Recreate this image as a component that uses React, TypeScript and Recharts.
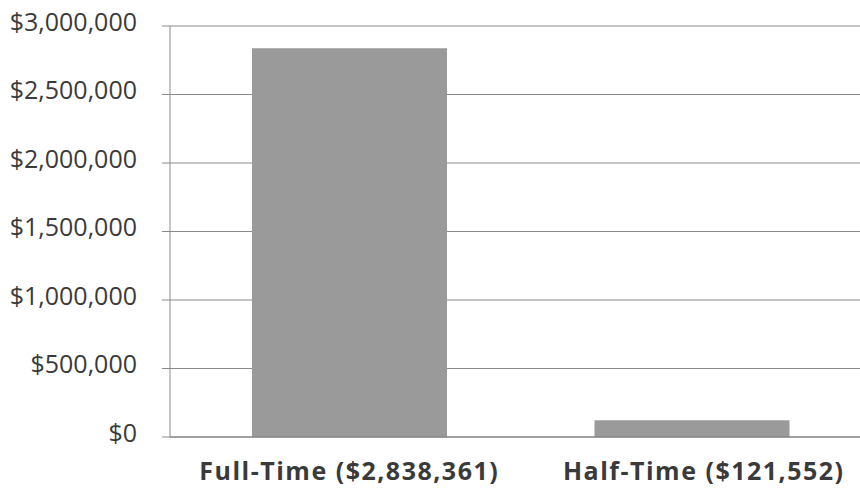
import { BarChart, Bar, XAxis, YAxis, CartesianGrid } from "recharts";

const categories = ["Full-Time ($2,838,361)", "Half-Time ($121,552)"];
const amounts = [2838361, 121552];
const yTicks = [0, 500000, 1000000, 1500000, 2000000, 2500000, 3000000];

const data = categories.map((name, i) => ({ name, amount: amounts[i] }));

const money = (v: number) => "$" + v.toLocaleString("en-US");

// the second label sits a bit right of its bar in the original
const labelShift = [0, 12];

function CategoryTick(props: any) {
  const { x, y, payload, index } = props;
  return (
    <text
      x={x + (labelShift[index] || 0)}
      y={y}
      dy="0.71em"
      textAnchor="middle"
      fontSize={25}
      fontWeight={700}
      fill="#3a3a3a"
      fontFamily="Open Sans"
      letterSpacing={1.5}
    >
      {payload.value}
    </text>
  );
}

export default function App() {
  return (
    <div style={{ position: "absolute", left: 0, top: 0, background: "#fff" }}>
      <BarChart
        width={863}
        height={492}
        data={data}
        margin={{ top: 26, right: 0, bottom: 0, left: 0 }}
        barCategoryGap={74}
      >
        <CartesianGrid vertical={false} stroke="#8a8a8a" strokeWidth={1} />
        <XAxis
          dataKey="name"
          padding={{ left: 8, right: 0 }}
          axisLine={{ stroke: "#7a7a7a" }}
          tickLine={false}
          tickMargin={19}
          height={55}
          interval={0}
          tick={<CategoryTick />}
        />
        <YAxis
          width={170}
          domain={[0, 3000000]}
          ticks={yTicks}
          tickFormatter={money}
          axisLine={{ stroke: "#8a8a8a" }}
          tickLine={{ stroke: "#8a8a8a" }}
          tickSize={8}
          tickMargin={25}
          interval={0}
          tick={{ fontSize: 25, fill: "#3a3a3a", fontFamily: "Open Sans", dy: -4 }}
        />
        <Bar dataKey="amount" fill="#9a9a9a" isAnimationActive={false} />
      </BarChart>
    </div>
  );
}
